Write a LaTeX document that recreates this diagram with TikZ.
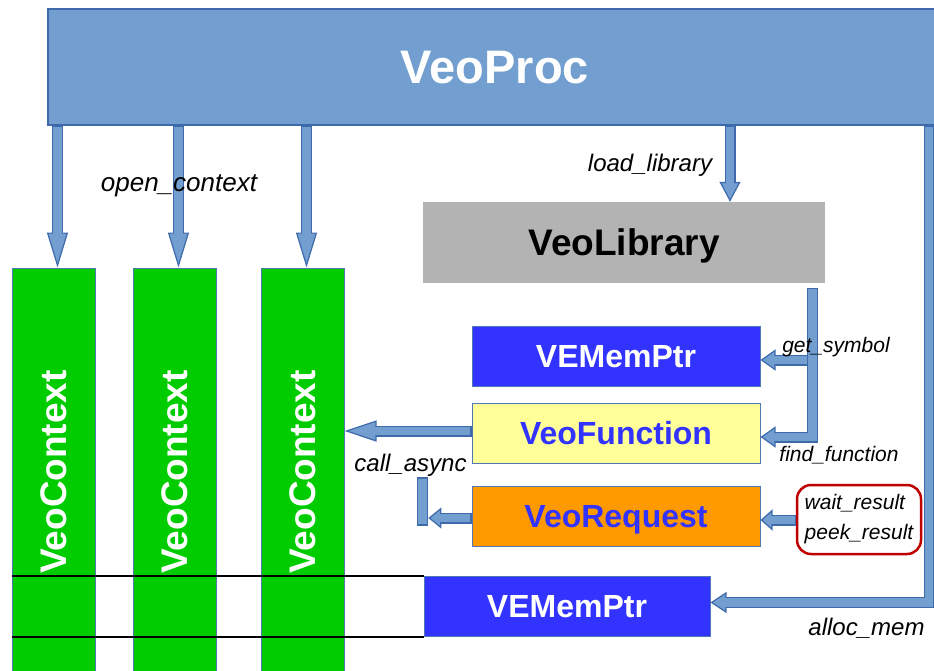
\documentclass[tikz,border=0pt]{standalone}
\usepackage{fontspec}
\setmainfont{Liberation Sans}
\usetikzlibrary{arrows.meta}

\definecolor{procfill}{RGB}{114,159,207}
\definecolor{procline}{RGB}{62,106,172}
\definecolor{boxline}{RGB}{80,120,180}
\definecolor{ctxgreen}{RGB}{0,204,0}
\definecolor{ptrblue}{RGB}{51,51,255}
\definecolor{funcyellow}{RGB}{255,255,153}
\definecolor{reqorange}{RGB}{255,153,0}
\definecolor{libgray}{RGB}{179,179,179}
\definecolor{resred}{RGB}{192,0,0}

\tikzset{
  flow/.style={draw=procline, line width=11pt, line join=miter,
    -{Triangle[length=#1, width=21pt, line width=1.2pt, fill=procfill]},
    postaction={draw=procfill, line width=8.6pt, -, shorten <=1.2pt, shorten >=#1-2pt}},
  flow/.default=20pt,
  procbox/.style={draw=procline, line width=2pt, fill=procfill, text=white,
    minimum width=894pt, minimum height=116pt, text depth=0pt,
    font=\fontsize{47}{50}\selectfont\bfseries},
  ctxbox/.style={draw=boxline, line width=1pt, fill=ctxgreen,
    minimum width=83pt, minimum height=408pt},
  ctxname/.style={rotate=90, text=white, text depth=0pt,
    font=\fontsize{37}{40}\selectfont\bfseries},
  libbox/.style={fill=libgray, minimum width=402pt, minimum height=81pt,
    text depth=0pt, font=\fontsize{37}{40}\selectfont\bfseries},
  box/.style={draw=boxline, line width=1pt, minimum width=288pt, minimum height=60pt,
    text depth=0pt, font=\fontsize{32}{34}\selectfont\bfseries},
  asyncbar/.style={draw=procline, line width=1.2pt, fill=procfill, inner sep=0pt,
    minimum width=10.5pt, minimum height=47pt},
  resultbox/.style={draw=resred, line width=2.5pt, rounded corners=14pt,
    minimum width=124pt, minimum height=69pt, align=left,
    font=\fontsize{21}{30}\selectfont\itshape},
  call/.style={font=\fontsize{21}{24}\selectfont\itshape},
}

\begin{document}
\begin{tikzpicture}[x=1pt, y=-1pt]
  \useasboundingbox (0,0) rectangle (934,670);
  \clip (0,0) rectangle (934,670);
  % Process bar
  \node[procbox] (proc) at (495,67) {VeoProc};
  % Contexts
  \foreach \i/\x in {1/53.5, 2/174.5, 3/302.5} {
    \node[ctxbox] (ctx\i) at (\x,472) {};
    \node[ctxname] (ctxname\i) at (ctx\i) {VeoContext};
    \coordinate (in\i) at ([xshift=4pt]ctx\i.north);
  }
  % Library side
  \node[libbox] (lib) at (624,242.5) {VeoLibrary};
  \node[box, fill=ptrblue, text=white] (symptr) at (616,356) {VEMemPtr};
  \node[box, fill=funcyellow, text=ptrblue] (func) at (616,433) {VeoFunction};
  \node[box, fill=reqorange, text=ptrblue] (req) at (616,516) {VeoRequest};
  \node[box, fill=ptrblue, text=white, minimum width=286pt] (memptr) at (567,606.5) {VEMemPtr};
  \node[resultbox] (results) at (859,519.5) {wait\_result\\peek\_result};
  \node[asyncbar] (async) at (422.5,501.5) {};

  % Memory bounds
  \draw[line width=1.3pt] (memptr.north west) -- (memptr.north west -| ctx1.west);
  \draw[line width=1.3pt] (memptr.south west) -- (memptr.south west -| ctx1.west);

  % Arrows out of VeoProc
  \foreach \i in {1,2,3}
    \draw[flow=35pt] (in\i |- proc.south) -- (in\i);
  \coordinate (libin) at ([xshift=106pt]lib.north);
  \draw[flow=20pt] (libin |- proc.south) -- (libin);
  \coordinate (memtap) at ([xshift=-14pt]proc.south east);
  \coordinate (memin) at ([yshift=4pt]memptr.east);
  \draw[flow=16pt] (memtap) |- (memin);

  % Symbols
  \coordinate (libout) at ([xshift=-13pt,yshift=-5pt]lib.south east);
  \coordinate (symin) at ([yshift=-4pt]symptr.east);
  \coordinate (funcin) at ([yshift=-4pt]func.east);
  \draw[flow=15pt] (symin -| libout) -- (symin);
  \draw[flow=15pt] (libout) |- (funcin);

  % Calls
  \coordinate (funcout) at ([yshift=2pt]func.west);
  \draw[flow=32pt] (funcout) -- (funcout -| ctx3.east);
  \coordinate (reqout) at ([yshift=-2pt]req.west);
  \draw[flow=13pt] (reqout) -- (reqout -| async.east);
  \coordinate (resin) at ([yshift=-4pt]req.east);
  \draw[flow=12pt] (resin -| results.west) -- (resin);

  % Labels
  \node[call, font=\fontsize{26}{28}\selectfont\itshape] (openlbl) at (179,186) {open\_context};
  \node[call, font=\fontsize{24}{26}\selectfont\itshape] (loadlbl) at (650,165.5) {load\_library};
  \node[call] (symlbl) at (836,347.5) {get\_symbol};
  \node[call] (findlbl) at (839,455) {find\_function};
  \node[call, font=\fontsize{24}{26}\selectfont\itshape] (asynclbl) at (410.5,465) {call\_async};
  \node[call, font=\fontsize{24}{26}\selectfont\itshape] (alloclbl) at (866.5,628.5) {alloc\_mem};
\end{tikzpicture}
\end{document}
